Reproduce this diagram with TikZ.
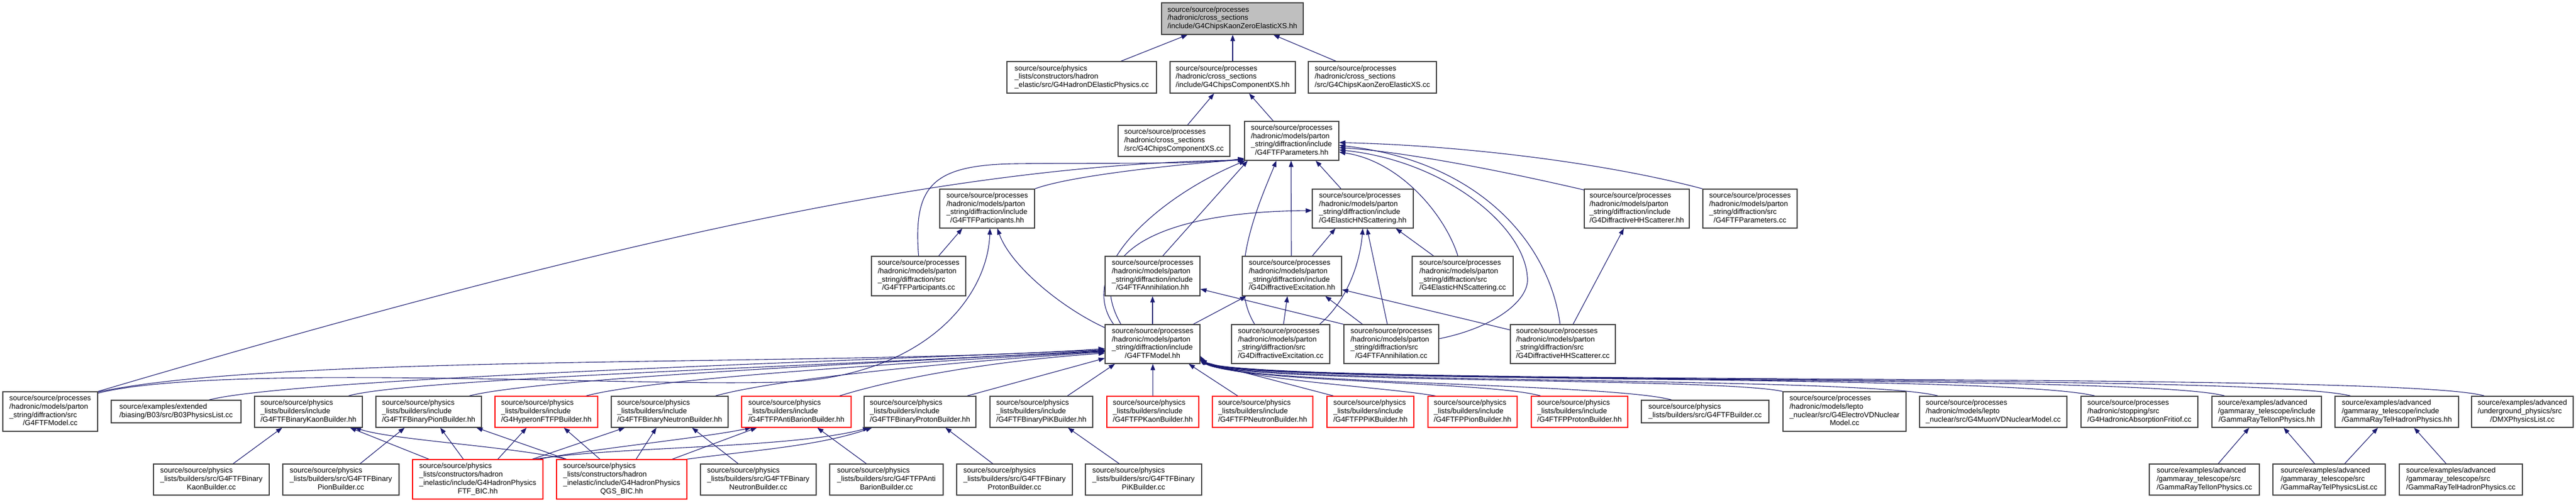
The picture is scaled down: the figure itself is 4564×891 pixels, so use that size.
\documentclass[tikz,border=0pt]{standalone}
\usepackage{fontspec}
\setmainfont{Liberation Sans}
\usetikzlibrary{arrows.meta,calc}
\pgfdeclarelayer{background}
\pgfsetlayers{background,main}
\definecolor{edgec}{HTML}{191970}
\definecolor{boxgray}{HTML}{BFBFBF}
\newcommand\mcl[1]{\multicolumn{1}{@{}c@{}}{#1}}
\newcommand\bx[7]{\node[box,#6,minimum width={#4-#2},minimum height={#5-#3}] (#1) at ({(#2+#4)/2},{(#3+#5)/2}) {\begin{tabular}{@{}l@{}}#7\end{tabular}};}
\begin{document}
\begin{tikzpicture}[x=1pt,y=-1pt,
  box/.style={draw=black!75, line width=1.2pt, fill=white, inner sep=0pt, font=\fontsize{13}{14.7}\selectfont},
  dep/.style={draw=edgec, line width=1.1pt, -{Triangle[length=11pt,width=8pt]}, fill=none}]
\useasboundingbox (0,0) rectangle (4564,891);
% ---------- nodes ----------
\bx{n0}{2058}{5}{2309}{61}{fill=boxgray}{source/source/processes\\/hadronic/cross\_sections\\\mcl{/include/G4ChipsKaonZeroElasticXS.hh}}
\bx{hde}{1784}{109}{2049}{165}{}{source/source/physics\\\_lists/constructors/hadron\\\mcl{\_elastic/src/G4HadronDElasticPhysics.cc}}
\bx{ccxsh}{2073}{109}{2295}{165}{}{source/source/processes\\/hadronic/cross\_sections\\\mcl{/include/G4ChipsComponentXS.hh}}
\bx{kzcc}{2318}{109}{2545}{165}{}{source/source/processes\\/hadronic/cross\_sections\\\mcl{/src/G4ChipsKaonZeroElasticXS.cc}}
\bx{ccxscc}{1981}{222}{2179}{277}{}{source/source/processes\\/hadronic/cross\_sections\\\mcl{/src/G4ChipsComponentXS.cc}}
\bx{parh}{2205}{215}{2372}{284}{}{source/source/processes\\/hadronic/models/parton\\\_string/diffraction/include\\\mcl{/G4FTFParameters.hh}}
\bx{parth}{1665}{335}{1833}{404}{}{source/source/processes\\/hadronic/models/parton\\\_string/diffraction/include\\\mcl{/G4FTFParticipants.hh}}
\bx{ehnh}{2325}{335}{2504}{404}{}{source/source/processes\\/hadronic/models/parton\\\_string/diffraction/include\\\mcl{/G4ElasticHNScattering.hh}}
\bx{dhhh}{2807}{335}{2993}{404}{}{source/source/processes\\/hadronic/models/parton\\\_string/diffraction/include\\\mcl{/G4DiffractiveHHScatterer.hh}}
\bx{parcc}{3017}{335}{3184}{404}{}{source/source/processes\\/hadronic/models/parton\\\_string/diffraction/src\\\mcl{/G4FTFParameters.cc}}
\bx{partcc}{1544}{454}{1711}{524}{}{source/source/processes\\/hadronic/models/parton\\\_string/diffraction/src\\\mcl{/G4FTFParticipants.cc}}
\bx{annh}{1958}{454}{2126}{524}{}{source/source/processes\\/hadronic/models/parton\\\_string/diffraction/include\\\mcl{/G4FTFAnnihilation.hh}}
\bx{dexh}{2201}{454}{2377}{524}{}{source/source/processes\\/hadronic/models/parton\\\_string/diffraction/include\\\mcl{/G4DiffractiveExcitation.hh}}
\bx{ehncc}{2502}{454}{2681}{524}{}{source/source/processes\\/hadronic/models/parton\\\_string/diffraction/src\\\mcl{/G4ElasticHNScattering.cc}}
\bx{modh}{1958}{575}{2126}{644}{}{source/source/processes\\/hadronic/models/parton\\\_string/diffraction/include\\\mcl{/G4FTFModel.hh}}
\bx{dexcc}{2182}{575}{2356}{644}{}{source/source/processes\\/hadronic/models/parton\\\_string/diffraction/src\\\mcl{/G4DiffractiveExcitation.cc}}
\bx{anncc}{2381}{575}{2549}{644}{}{source/source/processes\\/hadronic/models/parton\\\_string/diffraction/src\\\mcl{/G4FTFAnnihilation.cc}}
\bx{dhhcc}{2676}{575}{2862}{644}{}{source/source/processes\\/hadronic/models/parton\\\_string/diffraction/src\\\mcl{/G4DiffractiveHHScatterer.cc}}
% row 7
\bx{modcc}{5}{694}{173}{764}{}{source/source/processes\\/hadronic/models/parton\\\_string/diffraction/src\\\mcl{/G4FTFModel.cc}}
\bx{b03}{197}{709}{427}{749}{}{source/examples/extended\\\mcl{/biasing/B03/src/B03PhysicsList.cc}}
\bx{bkh}{451}{702}{642}{757}{}{source/source/physics\\\_lists/builders/include\\\mcl{/G4FTFBinaryKaonBuilder.hh}}
\bx{bpih}{666}{702}{853}{757}{}{source/source/physics\\\_lists/builders/include\\\mcl{/G4FTFBinaryPionBuilder.hh}}
\bx{hyp}{877}{702}{1059}{757}{draw=red}{source/source/physics\\\_lists/builders/include\\\mcl{/G4HyperonFTFPBuilder.hh}}
\bx{bnh}{1083}{702}{1290}{757}{}{source/source/physics\\\_lists/builders/include\\\mcl{/G4FTFBinaryNeutronBuilder.hh}}
\bx{pabh}{1314}{702}{1508}{757}{draw=red}{source/source/physics\\\_lists/builders/include\\\mcl{/G4FTFPAntiBarionBuilder.hh}}
\bx{bprh}{1531}{702}{1729}{757}{}{source/source/physics\\\_lists/builders/include\\\mcl{/G4FTFBinaryProtonBuilder.hh}}
\bx{bpikh}{1754}{702}{1936}{757}{}{source/source/physics\\\_lists/builders/include\\\mcl{/G4FTFBinaryPiKBuilder.hh}}
\bx{pkh}{1961}{702}{2124}{757}{draw=red}{source/source/physics\\\_lists/builders/include\\\mcl{/G4FTFPKaonBuilder.hh}}
\bx{pnh}{2148}{702}{2326}{757}{draw=red}{source/source/physics\\\_lists/builders/include\\\mcl{/G4FTFPNeutronBuilder.hh}}
\bx{ppikh}{2351}{702}{2505}{757}{draw=red}{source/source/physics\\\_lists/builders/include\\\mcl{/G4FTFPPiKBuilder.hh}}
\bx{ppih}{2530}{702}{2688}{757}{draw=red}{source/source/physics\\\_lists/builders/include\\\mcl{/G4FTFPPionBuilder.hh}}
\bx{pprh}{2713}{702}{2884}{757}{draw=red}{source/source/physics\\\_lists/builders/include\\\mcl{/G4FTFPProtonBuilder.hh}}
\bx{bcc}{2908}{709}{3134}{749}{}{source/source/physics\\\mcl{\_lists/builders/src/G4FTFBuilder.cc}}
\bx{evd}{3159}{694}{3377}{764}{}{source/source/processes\\/hadronic/models/lepto\\\_nuclear/src/G4ElectroVDNuclear\\\mcl{Model.cc}}
\bx{mvd}{3401}{702}{3662}{757}{}{source/source/processes\\/hadronic/models/lepto\\\mcl{\_nuclear/src/G4MuonVDNuclearModel.cc}}
\bx{fri}{3687}{702}{3894}{757}{}{source/source/processes\\/hadronic/stopping/src\\\mcl{/G4HadronicAbsorptionFritiof.cc}}
\bx{gion}{3919}{702}{4113}{757}{}{source/examples/advanced\\/gammaray\_telescope/include\\\mcl{/GammaRayTelIonPhysics.hh}}
\bx{ghad}{4137}{702}{4356}{757}{}{source/examples/advanced\\/gammaray\_telescope/include\\\mcl{/GammaRayTelHadronPhysics.hh}}
\bx{dmx}{4379}{702}{4559}{757}{}{source/examples/advanced\\/underground\_physics/src\\\mcl{/DMXPhysicsList.cc}}
% row 8
\bx{bkcc}{272}{822}{477}{877}{}{source/source/physics\\\_lists/builders/src/G4FTFBinary\\\mcl{KaonBuilder.cc}}
\bx{bpicc}{501}{822}{707}{877}{}{source/source/physics\\\_lists/builders/src/G4FTFBinary\\\mcl{PionBuilder.cc}}
\bx{ftfbic}{731}{814}{962}{884}{draw=red}{source/source/physics\\\_lists/constructors/hadron\\\_inelastic/include/G4HadronPhysics\\\mcl{FTF\_BIC.hh}}
\bx{qgsbic}{986}{814}{1217}{884}{draw=red}{source/source/physics\\\_lists/constructors/hadron\\\_inelastic/include/G4HadronPhysics\\\mcl{QGS\_BIC.hh}}
\bx{bncc}{1241}{822}{1446}{877}{}{source/source/physics\\\_lists/builders/src/G4FTFBinary\\\mcl{NeutronBuilder.cc}}
\bx{pabcc}{1470}{822}{1671}{877}{}{source/source/physics\\\_lists/builders/src/G4FTFPAnti\\\mcl{BarionBuilder.cc}}
\bx{bprcc}{1695}{822}{1900}{877}{}{source/source/physics\\\_lists/builders/src/G4FTFBinary\\\mcl{ProtonBuilder.cc}}
\bx{bpikcc}{1923}{822}{2129}{877}{}{source/source/physics\\\_lists/builders/src/G4FTFBinary\\\mcl{PiKBuilder.cc}}
\bx{gioncc}{3808}{822}{4003}{877}{}{source/examples/advanced\\/gammaray\_telescope/src\\\mcl{/GammaRayTelIonPhysics.cc}}
\bx{gplcc}{4027}{822}{4226}{877}{}{source/examples/advanced\\/gammaray\_telescope/src\\\mcl{/GammaRayTelPhysicsList.cc}}
\bx{ghadcc}{4251}{822}{4469}{877}{}{source/examples/advanced\\/gammaray\_telescope/src\\\mcl{/GammaRayTelHadronPhysics.cc}}
% ---------- edges ----------
\begin{pgfonlayer}{background}
\fill[white] (0,0) rectangle (4564,891);
\draw[dep] ($(hde.north)+(69.5,0)$) -- ($(n0.south)+(-79.5,0)$);
\draw[dep] (ccxsh.north) -- (ccxsh.north |- n0.south);
\draw[dep] ($(kzcc.north)+(-64.5,0)$) -- ($(n0.south)+(72.5,0)$);
\draw[dep] ($(ccxscc.north)+(24,0)$) -- ($(ccxsh.south)+(-33,0)$);
\draw[dep] ($(parh.north)+(-32.5,0)$) -- ($(ccxsh.south)+(29,0)$);
% into parh
\draw[dep] (parth.north east) .. controls (1900,310) and (2100,290) .. ($(parh.south west)+(0,-2)$);
\draw[dep] (modcc.north east) .. controls (1100,420) and (1700,290) .. ($(parh.south west)+(0,-1)$);
\draw[dep] (partcc.north) .. controls (1618,330) and (1650,292) .. (1800,290) .. controls (1950,288) and (2120,292) .. ($(parh.south west)+(0,-4)$);
\draw[dep] ($(modh.north)+(-69,0)$) .. controls (1905,480) and (2050,350) .. ($(parh.south west)+(2,0)$);
\draw[dep] ($(modh.north)+(-56,0)$) .. controls (1915,450) and (2050,375) .. ($(ehnh.west)+(0,3.5)$);
\draw[dep] ($(annh.north)+(18,0)$) -- ($(parh.south)+(-78,0)$);
\draw[dep] ($(dexcc.north)+(-46,0)$) .. controls (2170,490) and (2235,350) .. ($(parh.south)+(-27,0)$);
\draw[dep] ($(dexh.north)+(-1,0)$) -- ($(parh.south)+(-1,0)$);
\draw[dep] ($(ehnh.north)+(-38.5,0)$) -- ($(parh.south)+(42.5,0)$);
\draw[dep] ($(ehncc.north)+(-8.5,0)$) .. controls (2560,380) and (2480,285) .. ($(parh.east)+(0,20)$);
\draw[dep] ($(anncc.east)+(0,-9.5)$) .. controls (2650,580) and (2712,530) .. (2706,490) .. controls (2700,400) and (2560,285) .. ($(parh.east)+(0,16)$);
\draw[dep] ($(dhhcc.north)+(-5,0)$) .. controls (2745,430) and (2620,285) .. ($(parh.east)+(0,8)$);
\draw[dep] ($(dhhh.north west)+(0,2)$) .. controls (2650,300) and (2480,268) .. ($(parh.east)+(0,12)$);
\draw[dep] (parcc.north west) .. controls (2850,290) and (2600,258) .. ($(parh.east)+(0,3)$);
% into parth
\draw[dep] ($(partcc.north)+(35.5,0)$) -- ($(parth.south)+(-44,0)$);
\draw[dep] ($(modh.north west)+(0,6)$) .. controls (1880,545) and (1790,470) .. ($(parth.south)+(18,0)$);
\draw[dep] ($(modcc.north east)+(0,3)$) .. controls (400,640) and (1200,690) .. (1420,675) .. controls (1650,655) and (1750,520) .. ($(parth.south)+(5,0)$);
% into ehnh, dhhh
\draw[dep] ($(dexh.north)+(36,0)$) -- ($(ehnh.south)+(-48.5,0)$);
\draw[dep] ($(dexcc.north)+(69,0)$) .. controls (2390,530) and (2410,460) .. (ehnh.south);
\draw[dep] ($(anncc.north)+(-7,0)$) -- ($(ehnh.south)+(7.5,0)$);
\draw[dep] ($(ehncc.north)+(-51.5,0)$) -- ($(ehnh.south)+(58.5,0)$);
\draw[dep] ($(dhhcc.north)+(18,0)$) -- ($(dhhh.south)+(-23,0)$);
% into annh, dexh
\draw[dep] (modh.north) -- (annh.south);
\draw[dep] (anncc.north west) -- ($(annh.east)+(0,23)$);
\draw[dep] ($(modh.north)+(72,0)$) -- ($(dexh.south)+(-81,0)$);
\draw[dep] ($(dexcc.north)+(5,0)$) -- ($(dexh.south)+(-8,0)$);
\draw[dep] ($(anncc.north)+(-51,0)$) -- ($(dexh.south)+(59,0)$);
\draw[dep] ($(dhhcc.north west)+(0,10)$) -- ($(dexh.east)+(0,24)$);
% into modh from left
\draw[dep] ($(modcc.north east)+(0,1)$) .. controls (500,625) and (1500,650) .. ($(modh.west)+(0,8)$);
\draw[dep] ($(b03.north)+(58,0)$) .. controls (520,670) and (1500,640) .. ($(modh.west)+(0,10)$);
\draw[dep] ($(bkh.north)+(70.5,0)$) .. controls (720,670) and (1550,645) .. ($(modh.west)+(0,11)$);
\draw[dep] ($(bpih.north)+(71.5,0)$) .. controls (950,670) and (1600,640) .. ($(modh.west)+(0,12)$);
\draw[dep] ($(hyp.north)+(70,0)$) .. controls (1150,670) and (1650,640) .. ($(modh.west)+(0,13)$);
\draw[dep] ($(bnh.north)+(80.5,0)$) .. controls (1380,670) and (1700,640) .. ($(modh.west)+(0,14)$);
\draw[dep] ($(pabh.north)+(76,0)$) .. controls (1580,672) and (1750,640) .. ($(modh.west)+(0,16)$);
\draw[dep] ($(bprh.north)+(83,0)$) -- ($(modh.west)+(0,25)$);
\draw[dep] ($(bpikh.north)+(46,0)$) -- ($(modh.south west)+(18,0)$);
\draw[dep] (pkh.north) -- (pkh.north |- modh.south);
\draw[dep] ($(pnh.north)+(-44,0)$) -- ($(modh.south)+(64,0)$);
% into modh from right
\draw[dep] ($(ppikh.north)+(-65,0)$) -- ($(modh.east)+(0,30)$);
\draw[dep] ($(ppih.north)+(-65,0)$) .. controls (2450,685) and (2220,675) .. ($(modh.east)+(0,29)$);
\draw[dep] ($(pprh.north)+(-68.5,0)$) .. controls (2640,675) and (2190,678) .. ($(modh.east)+(0,28)$);
\draw[dep] ($(bcc.north)+(-59,0)$) .. controls (2850,678) and (2180,680) .. ($(modh.east)+(0,27)$);
\draw[dep] (evd.north west) .. controls (3050,668) and (2170,680) .. ($(modh.east)+(0,26)$);
\draw[dep] ($(mvd.north)+(-97.5,0)$) .. controls (3300,665) and (2170,682) .. ($(modh.east)+(0,25)$);
\draw[dep] ($(fri.north)+(-78.5,0)$) .. controls (3550,660) and (2165,682) .. ($(modh.east)+(0,24)$);
\draw[dep] ($(gion.north)+(-74,0)$) .. controls (3800,660) and (2160,684) .. ($(modh.east)+(0,23)$);
\draw[dep] ($(ghad.north)+(-81.5,0)$) .. controls (4000,658) and (2160,686) .. ($(modh.east)+(0,22)$);
\draw[dep] ($(dmx.north)+(-67,0)$) .. controls (4250,655) and (2160,688) .. ($(modh.east)+(0,21)$);
% bottom row
\draw[dep] ($(bkcc.north)+(38.5,0)$) -- ($(bkh.south)+(-46.5,0)$);
\draw[dep] ($(bpicc.north)+(34,0)$) -- ($(bpih.south)+(-42.5,0)$);
\draw[dep] ($(ftfbic.north)+(-86.5,0)$) -- ($(bkh.south)+(73.5,0)$);
\draw[dep] ($(qgsbic.north west)+(18,0)$) .. controls (900,790) and (700,780) .. ($(bkh.south)+(82,0)$);
\draw[dep] ($(ftfbic.north)+(-25.5,0)$) -- ($(bpih.south)+(20.5,0)$);
\draw[dep] ($(qgsbic.north west)+(18,0)$) -- ($(bpih.south)+(84.5,0)$);
\draw[dep] ($(ftfbic.north)+(35.5,0)$) -- ($(hyp.south)+(-35,0)$);
\draw[dep] ($(qgsbic.north)+(-38.5,0)$) -- ($(hyp.south)+(31,0)$);
\draw[dep] ($(ftfbic.north)+(96.5,0)$) -- ($(bnh.south)+(-79.5,0)$);
\draw[dep] ($(qgsbic.north)+(25.5,0)$) -- ($(bnh.south)+(-23.5,0)$);
\draw[dep] ($(ftfbic.north)+(108,0)$) .. controls (1050,795) and (1250,775) .. ($(pabh.south)+(-80,0)$);
\draw[dep] ($(qgsbic.north)+(89.5,0)$) -- ($(pabh.south)+(-70,0)$);
\draw[dep] ($(ftfbic.north)+(100,0)$) .. controls (1100,790) and (1400,795) .. ($(bprh.south)+(-90,0)$);
\draw[dep] ($(qgsbic.north)+(115,0)$) .. controls (1340,797) and (1450,790) .. ($(bprh.south)+(-85,0)$);
\draw[dep] ($(bncc.north)+(-35.5,0)$) -- ($(bnh.south)+(39.5,0)$);
\draw[dep] ($(pabcc.north)+(-35.5,0)$) -- ($(pabh.south)+(37,0)$);
\draw[dep] ($(bprcc.north)+(-38.5,0)$) -- ($(bprh.south)+(45,0)$);
\draw[dep] ($(bpikcc.north)+(-43,0)$) -- ($(bpikh.south)+(47,0)$);
\draw[dep] ($(gioncc.north)+(24.5,0)$) -- ($(gion.south)+(-31,0)$);
\draw[dep] ($(gplcc.north)+(-25.5,0)$) -- ($(gion.south)+(30,0)$);
\draw[dep] ($(gplcc.north)+(27.5,0)$) -- ($(ghad.south)+(-33.5,0)$);
\draw[dep] ($(ghadcc.north)+(-26,0)$) -- ($(ghad.south)+(30.5,0)$);
\end{pgfonlayer}
\end{tikzpicture}
\end{document}
